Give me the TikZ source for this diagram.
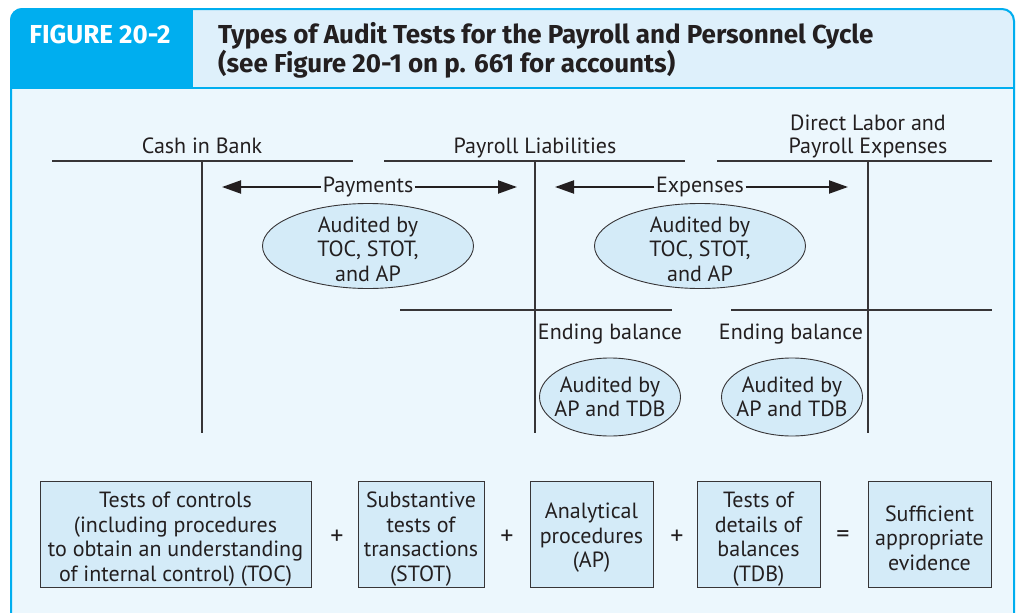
\documentclass[tikz,border=0pt]{standalone}
\usepackage{fontspec}
\setmainfont{PT Sans}
\newfontfamily\ttlfont{Fira Sans}
\usetikzlibrary{shapes.geometric,arrows.meta}
\definecolor{hdrcyan}{RGB}{0,174,239}
\definecolor{hdrlight}{RGB}{222,240,251}
\definecolor{bodybg}{RGB}{236,247,253}
\definecolor{boxfill}{RGB}{212,235,248}
\definecolor{ink}{RGB}{35,31,32}
\definecolor{rulecol}{RGB}{55,53,55}
\begin{document}
\begin{tikzpicture}[x=1pt,y=-1pt,
  every node/.style={text=ink, font=\fontsize{22}{24.5}\selectfont, inner sep=0pt},
  tline/.style={draw=rulecol, line width=1.3pt},
  oval/.style={ellipse, draw=rulecol, line width=0.9pt, fill=boxfill, align=center},
  evbox/.style={draw=rulecol, line width=1pt, fill=boxfill, minimum height=106pt},
  txt/.style={align=center},
  flow/.style={draw=ink, line width=2pt, -{Triangle[length=19pt,width=13pt]}},
  lbl/.style={inner xsep=1.5pt, inner ysep=0pt},
  ttl/.style={font=\ttlfont\fontsize{26}{28}\selectfont\bfseries},
  op/.style={font=\fontsize{26}{26}\selectfont}
]
\useasboundingbox (0,0) rectangle (1018,613);
\fill[white] (0,0) rectangle (1018,613);
% frame
\fill[hdrlight, rounded corners=12pt] (10,8) rectangle (1015,120);
\fill[hdrcyan, rounded corners=12pt] (10,8) rectangle (230,120);
\fill[hdrlight] (193,8) rectangle (900,88);
\fill[bodybg] (10,88) rectangle (1015,613);
\draw[hdrcyan, line width=2pt, rounded corners=12pt] (11,613) -- (11,9) -- (1014,9) -- (1014,613);
\draw[hdrcyan, line width=2pt] (10,88) -- (1015,88);
\node[ttl, text=white, anchor=base] (fig) at (100,43) {FIGURE 20-2};
\node[ttl, anchor=west, align=left] (title) at (218,50) {Types of Audit Tests for the Payroll and Personnel Cycle\\(see Figure 20-1 on p. 661 for accounts)};

% T-accounts
\draw[tline] (52,161) -- (353,161);
\draw[tline] (202,161) -- (202,433);
\draw[tline] (384,161) -- (685,161);
\draw[tline] (535,161) -- (535,433);
\draw[tline] (717,161) -- (992,161);
\draw[tline] (868,161) -- (868,433);
\draw[tline] (400,310) -- (672,310);
\draw[tline] (731,310) -- (992,310);

\node[anchor=base] (cash) at (202,153) {Cash in Bank};
\node[anchor=base] (payl) at (535,153) {Payroll Liabilities};
\node[anchor=base] (dl1) at (868,130) {Direct Labor and};
\node[anchor=base] (dl2) at (868,153) {Payroll Expenses};

% flow arrows
\node[lbl] (pay) at (368,187) {Payments};
\coordinate (payL) at (222,187);
\coordinate (payR) at (517,187);
\draw[flow] (pay.west) -- (payL);
\draw[flow] (pay.east) -- (payR);
\node[lbl] (exp) at (700,187) {Expenses};
\coordinate (expL) at (555,187);
\coordinate (expR) at (848,187);
\draw[flow] (exp.west) -- (expL);
\draw[flow] (exp.east) -- (expR);

% ellipses
\node[oval, minimum width=211pt, minimum height=85pt] (e1) at (368,246) {};
\node[txt] (e1t) at ([yshift=-3pt]e1.center) {Audited by\\TOC, STOT,\\and AP};
\node[oval, minimum width=211pt, minimum height=85pt] (e2) at (700,246) {};
\node[txt] (e2t) at ([yshift=-3pt]e2.center) {Audited by\\TOC, STOT,\\and AP};

\node (eb1) at (610,334) {Ending balance};
\node (eb2) at (791,334) {Ending balance};
\node[oval, minimum width=141pt, minimum height=78pt] (e3) at (610,397) {};
\node[txt] (e3t) at (e3.center) {Audited by\\AP and TDB};
\node[oval, minimum width=141pt, minimum height=78pt] (e4) at (792,397) {};
\node[txt] (e4t) at (e4.center) {Audited by\\AP and TDB};

% bottom equation
\node[evbox, minimum width=271pt] (b1) at (175.5,534) {};
\node[txt] (b1t) at ([yshift=-5pt]b1.center) {Tests of controls\\(including procedures\\to obtain an understanding\\of internal control) (TOC)};
\node[evbox, minimum width=126pt] (b2) at (421,534) {};
\node[txt] (b2t) at ([yshift=-5pt]b2.center) {Substantive\\tests of\\transactions\\(STOT)};
\node[evbox, minimum width=123pt] (b3) at (591.5,534) {};
\node[txt] (b3t) at ([yshift=-4pt]b3.center) {Analytical\\procedures\\(AP)};
\node[evbox, minimum width=123pt] (b4) at (758.5,534) {};
\node[txt] (b4t) at ([yshift=-5pt]b4.center) {Tests of\\details of\\balances\\(TDB)};
\node[evbox, minimum width=123pt] (b5) at (929.5,534) {};
\node[txt] (b5t) at ([yshift=-4pt]b5.center) {Sufficient\\appropriate\\evidence};
\node[op] (p1) at (337,537) {+};
\node[op] (p2) at (507,537) {+};
\node[op] (p3) at (677,537) {+};
\node[op] (eq) at (843,537) {=};
\end{tikzpicture}
\end{document}
